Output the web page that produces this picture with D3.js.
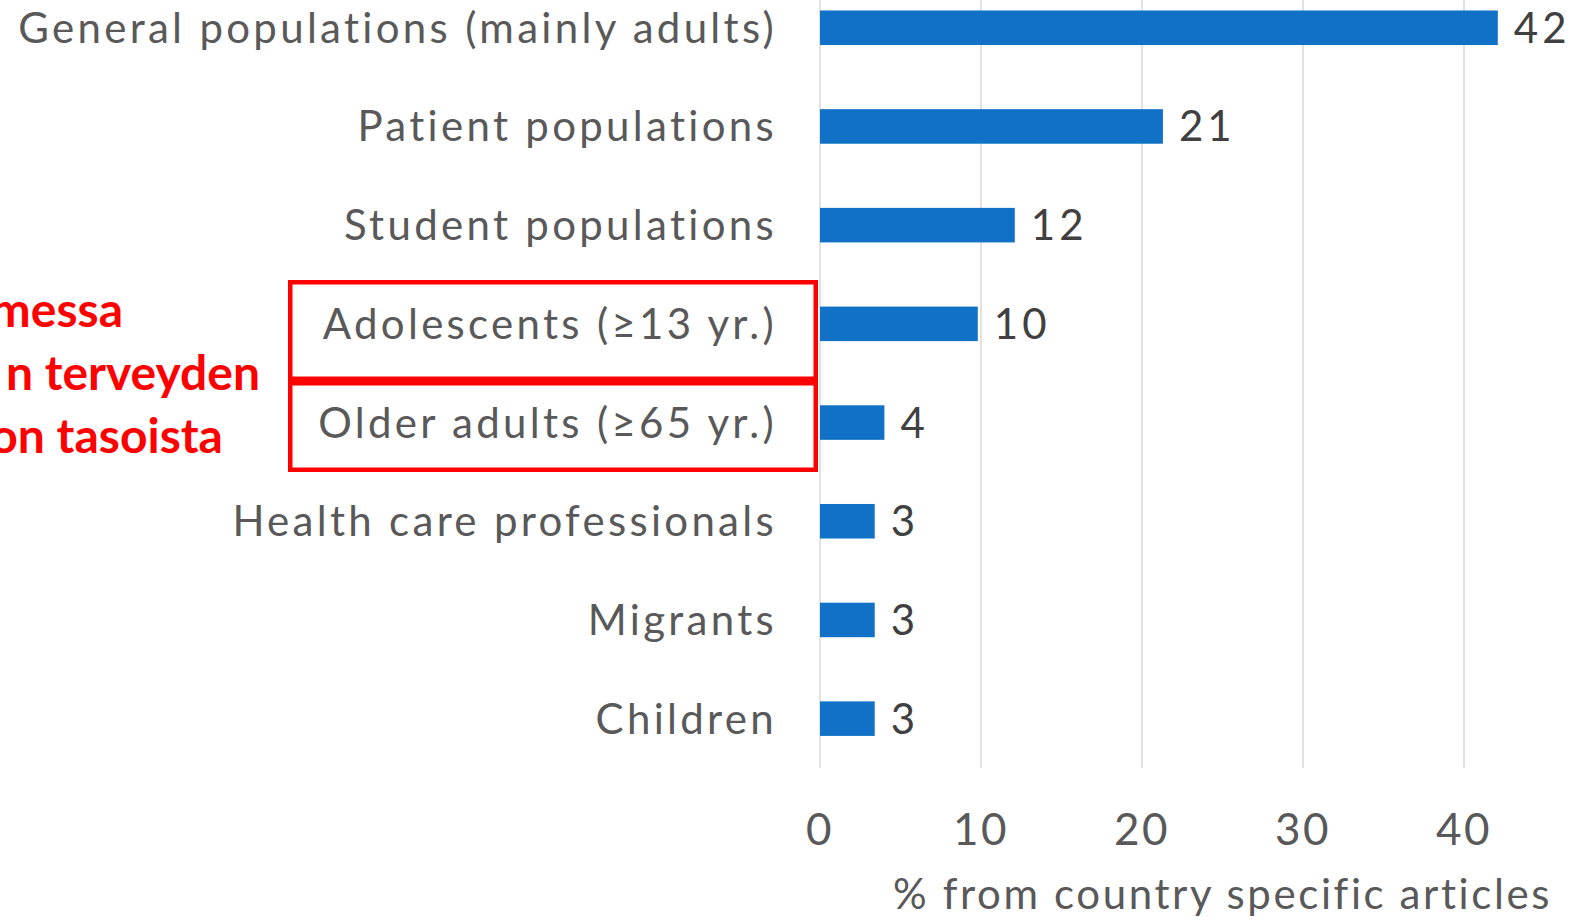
<!DOCTYPE html>
<html>
<head>
<meta charset="utf-8">
<script src="https://cdn.jsdelivr.net/npm/d3@7"></script>
<style>
  html, body { margin: 0; padding: 0; background: #fff; overflow: hidden; }
  svg { display: block; }
</style>
</head>
<body>
<svg id="chart" width="1578" height="922"></svg>
<script>
// ---- data ----
const categories = [
  "General populations (mainly adults)",
  "Patient populations",
  "Student populations",
  "Adolescents (\u226513 yr.)",
  "Older adults (\u226565 yr.)",
  "Health care professionals",
  "Migrants",
  "Children"
];
const values = [42.1, 21.3, 12.1, 9.8, 4.0, 3.4, 3.4, 3.4];
const xTicks = [0, 10, 20, 30, 40];
const axisTitle = "% from country specific articles";
const highlighted = ["Adolescents (\u226513 yr.)", "Older adults (\u226565 yr.)"];
const noteLines = ["messa", "n terveyden", "on tasoista"];

// ---- layout ----
const svg = d3.select("#chart");
const x = d3.scaleLinear().domain([0, 40]).range([820, 1464]);
const y = d3.scaleBand().domain(categories).range([-21.6, 768])
  .paddingInner(0.65).paddingOuter(0.325);
const fmt = d3.format(".0f");
const labelFont = "Lato, 'Open Sans', sans-serif";

// gridlines
svg.append("g").selectAll("line").data(xTicks).join("line")
  .attr("x1", d => x(d)).attr("x2", d => x(d))
  .attr("y1", 0).attr("y2", 768)
  .attr("stroke", "#d9d9d9").attr("stroke-width", 1.5);

// bars
svg.append("g").selectAll("rect").data(categories).join("rect")
  .attr("x", x(0))
  .attr("y", d => y(d))
  .attr("width", (d, i) => x(values[i]) - x(0))
  .attr("height", y.bandwidth())
  .attr("fill", "#1071c7");

// value labels
svg.append("g").selectAll("text").data(categories).join("text")
  .attr("x", (d, i) => x(values[i]) + 16)
  .attr("y", d => y(d) + y.bandwidth() / 2 + 15)
  .attr("font-family", labelFont)
  .attr("font-size", 42)
  .attr("letter-spacing", 4)
  .attr("fill", "#404040")
  .text((d, i) => fmt(values[i]));

// category labels
svg.append("g").selectAll("text").data(categories).join("text")
  .attr("x", x(0) - 43)
  .attr("y", d => y(d) + y.bandwidth() / 2 + 15)
  .attr("text-anchor", "end")
  .attr("font-family", labelFont)
  .attr("font-size", 42)
  .attr("letter-spacing", 3.3)
  .attr("fill", "#595959")
  .text(d => d);

// x tick labels
svg.append("g").selectAll("text").data(xTicks).join("text")
  .attr("x", d => x(d))
  .attr("y", 845)
  .attr("text-anchor", "middle")
  .attr("font-family", labelFont)
  .attr("font-size", 44)
  .attr("letter-spacing", 2.5)
  .attr("fill", "#595959")
  .text(d => d);

// axis title
svg.append("text")
  .attr("x", 1552).attr("y", 909)
  .attr("text-anchor", "end")
  .attr("font-family", labelFont)
  .attr("font-size", 42)
  .attr("letter-spacing", 2.6)
  .attr("fill", "#595959")
  .text(axisTitle);

// highlight boxes
const boxBounds = [[282.25, 378.75], [383.25, 469.75]];
svg.append("g").selectAll("rect").data(highlighted).join("rect")
  .attr("x", 290.25)
  .attr("y", (d, i) => boxBounds[i][0])
  .attr("width", x(0) - 4.25 - 290.25)
  .attr("height", (d, i) => boxBounds[i][1] - boxBounds[i][0])
  .attr("fill", "none")
  .attr("stroke", "#ff0000")
  .attr("stroke-width", 4.5);

// cropped red note text
const noteRight = [123, 260, 223];
const noteBase = [327, 390, 453];
svg.append("g").selectAll("text").data(noteLines).join("text")
  .attr("x", (d, i) => noteRight[i])
  .attr("y", (d, i) => noteBase[i])
  .attr("text-anchor", "end")
  .attr("font-family", labelFont)
  .attr("font-weight", "bold")
  .attr("font-size", 48)
  .attr("fill", "#ff0000")
  .text(d => d);
</script>
</body>
</html>
